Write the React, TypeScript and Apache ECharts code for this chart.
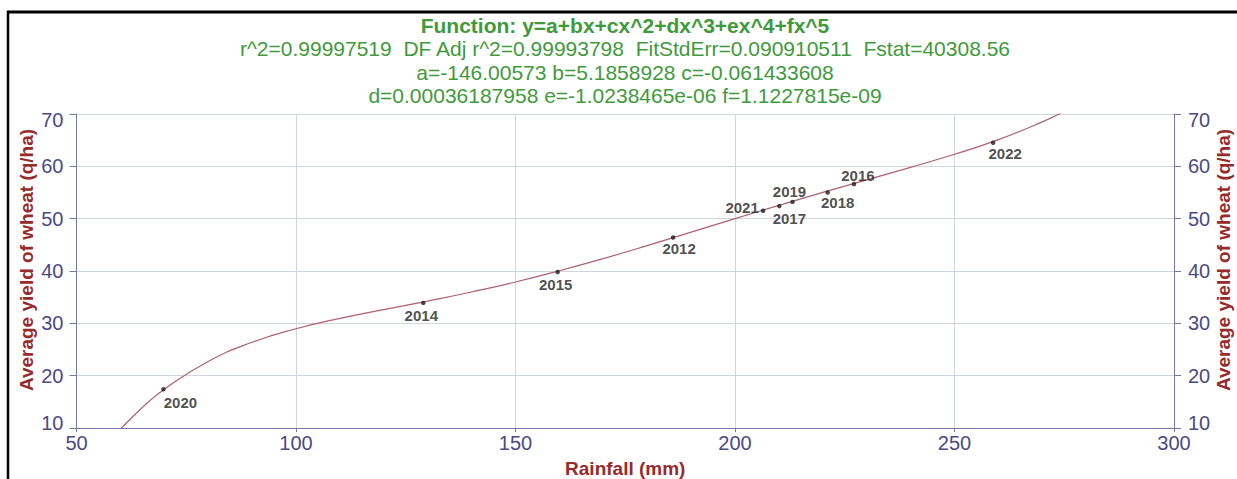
import React, { useEffect, useRef } from "react";
import * as echarts from "echarts";

// ---- data ----
const years = ["2020", "2014", "2015", "2012", "2021", "2017", "2019", "2018", "2016", "2022"];
const rainfall = [69.8, 129.0, 159.6, 185.9, 206.4, 210.1, 213.1, 221.1, 227.1, 258.8];
const yieldValues = [17.4, 33.9, 39.8, 46.4, 51.5, 52.4, 53.2, 55.0, 56.6, 64.5];

// fitted polynomial curve
const fitX = [60, 65, 70, 80, 90, 100, 110, 120, 130, 140, 150, 160, 170, 180, 190, 200, 210, 220, 230, 240, 250, 260, 270, 275];
const fitY = [9.76, 13.93, 17.41, 22.71, 26.38, 28.97, 30.94, 32.62, 34.26, 35.99, 37.9, 40.05, 42.37, 44.85, 47.42, 50.0, 52.54, 55.02, 57.42, 59.81, 62.3, 65.1, 68.49, 70.51];

const titleLines = [
  "Function: y=a+bx+cx^2+dx^3+ex^4+fx^5",
  "r^2=0.99997519  DF Adj r^2=0.99993798  FitStdErr=0.090910511  Fstat=40308.56",
  "a=-146.00573 b=5.1858928 c=-0.061433608",
  "d=0.00036187958 e=-1.0238465e-06 f=1.1227815e-09",
];

const xName = "Rainfall (mm)";
const yName = "Average yield of wheat (q/ha)";
const xMin = 50, xMax = 300, xStep = 50;
const yMin = 10, yMax = 70, yStep = 10;

// label placement (presentation only)
const labelOffsets: number[][] = [
  [17, 13], [-2, 13], [-2, 12], [6, 11], [-21, -3],
  [10, 12], [-3, -10], [10, 10], [4, -9], [12, 11],
];

const FONT = "'Liberation Sans', Arial, sans-serif";
const GREEN = "#3f9a3c";
const RED = "#972a2a";
const TICK = "#4a4a86";
const AXIS = "#7878a8";
const GRID = "#cfd6e2";

export default function App() {
  const ref = useRef<HTMLDivElement>(null);
  useEffect(() => {
    if (!ref.current) return;
    const chart = echarts.init(ref.current, undefined, { renderer: "svg" });
    const cx = 625;

    const yLabel = {
      fontSize: 20,
      fontFamily: FONT,
      color: TICK,
      formatter: (v: number) => (v === yMax ? `{top|${v}}` : v === yMin ? `{bot|${v}}` : `{n|${v}}`),
      rich: {
        n: { fontSize: 20, fontFamily: FONT, color: TICK },
        top: { fontSize: 20, fontFamily: FONT, color: TICK, padding: [12, 0, 0, 0] },
        bot: { fontSize: 20, fontFamily: FONT, color: TICK, padding: [0, 0, 10, 0] },
      },
    };

    const yAxisBase = {
      type: "value",
      min: yMin,
      max: yMax,
      interval: yStep,
      name: yName,
      nameLocation: "middle",
      nameRotate: 90,
      nameMoveOverlap: false,
      nameTextStyle: {
        fontSize: 19,
        fontWeight: "bold",
        fontFamily: FONT,
        color: RED,
        padding: [0, 0, 0, 22],
      },
      axisLine: { show: true, lineStyle: { color: AXIS, width: 1 } },
      axisTick: { show: true, length: 7, lineStyle: { color: AXIS } },
    };

    chart.setOption({
      animation: false,
      backgroundColor: "#ffffff",
      grid: {
        left: 76.5,
        right: 63,
        top: 114,
        bottom: 51,
        containLabel: false,
        outerBoundsMode: "none",
      },
      xAxis: {
        type: "value",
        min: xMin,
        max: xMax,
        interval: xStep,
        name: xName,
        nameLocation: "middle",
        nameGap: 31,
        nameMoveOverlap: false,
        nameTextStyle: { fontSize: 19, fontWeight: "bold", fontFamily: FONT, color: RED },
        axisLine: { show: true, lineStyle: { color: AXIS, width: 1 } },
        axisTick: { show: true, length: 4, lineStyle: { color: AXIS } },
        axisLabel: { fontSize: 20, fontFamily: FONT, color: TICK, margin: 5 },
        splitLine: { show: true, lineStyle: { color: GRID, width: 1 } },
      },
      yAxis: [
        {
          ...yAxisBase,
          position: "left",
          nameGap: 41,
          axisLabel: { ...yLabel, margin: 13 },
          splitLine: { show: true, lineStyle: { color: GRID, width: 1 } },
        },
        {
          ...yAxisBase,
          position: "right",
          nameGap: 40,
          axisLabel: { ...yLabel, margin: 14 },
          splitLine: { show: false },
        },
      ],
      series: [
        {
          type: "line",
          data: fitX.map((x, i) => [x, fitY[i]]),
          smooth: true,
          showSymbol: false,
          clip: true,
          lineStyle: { color: "#b0606e", width: 1.2 },
          z: 2,
        },
        {
          type: "scatter",
          data: rainfall.map((x, i) => ({
            value: [x, yieldValues[i]],
            name: years[i],
            label: { offset: labelOffsets[i] },
          })),
          symbol: "circle",
          symbolSize: 4.5,
          itemStyle: { color: "#1c1c1c" },
          label: {
            show: true,
            position: "inside",
            formatter: (p: any) => p.name,
            fontSize: 15,
            fontWeight: "bold",
            fontFamily: FONT,
            color: "#222222",
          },
          z: 3,
        },
      ],
      graphic: [
        { type: "line", shape: { x1: 7, y1: 12, x2: 1237, y2: 12 }, style: { stroke: "#000", lineWidth: 3 }, silent: true },
        { type: "line", shape: { x1: 8, y1: 11, x2: 8, y2: 479 }, style: { stroke: "#000", lineWidth: 2.5 }, silent: true },
        ...titleLines.map((t, i) => ({
          type: "text",
          x: cx,
          y: 25 + i * 23.6,
          style: {
            text: t,
            align: "center",
            verticalAlign: "middle",
            fill: GREEN,
            fontSize: 21,
            fontWeight: i === 0 ? "bold" : "normal",
            fontFamily: FONT,
          },
        })),
      ],
    });
    return () => chart.dispose();
  }, []);

  return (
    <div
      ref={ref}
      style={{ position: "fixed", left: 0, top: 0, width: 1237, height: 479, background: "#fff" }}
    />
  );
}
